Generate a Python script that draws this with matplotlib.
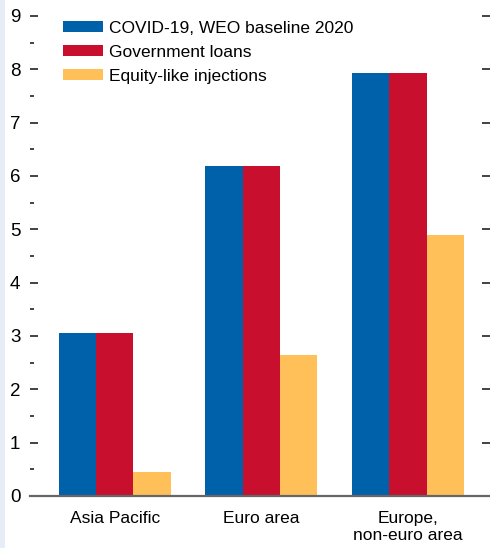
import numpy as np
import matplotlib.pyplot as plt
from matplotlib.patches import Rectangle, Patch
from matplotlib.ticker import MultipleLocator

plt.rcParams['font.family'] = ['Liberation Sans Narrow', 'Liberation Sans', 'DejaVu Sans']

regions = ['Asia Pacific', 'Euro area', 'Europe,\nnon-euro area']
series = ['COVID-19, WEO baseline 2020', 'Government loans', 'Equity-like injections']
baseline = [3.06, 6.19, 7.94]
gov_loans = [3.06, 6.19, 7.94]
equity = [0.45, 2.65, 4.90]
colors = ['#0061AB', '#C8102E', '#FFBF59']

fig = plt.figure(figsize=(4.9, 5.48), dpi=100)
# light strip at the left edge
fig.patches.append(Rectangle((0, 0), 5/490, 1, transform=fig.transFigure,
                             facecolor='#E6EDF7', edgecolor='none', zorder=0))
ax = fig.add_axes([30/490, 1 - 496/548, 460/490, 480/548])

x = np.arange(len(regions))
w = 0.255
for i, (vals, c) in enumerate(zip([baseline, gov_loans, equity], colors)):
    ax.bar(x + (i - 1) * w, vals, width=w, color=c, edgecolor='none', zorder=2)

ax.set_xlim(-0.578, 2.56)
ax.set_ylim(0, 9)
ax.set_xticks(x)
ax.set_xticklabels(regions, fontsize=12.5, linespacing=1.15)
ax.tick_params(axis='x', length=0, pad=11)

ax.yaxis.set_major_locator(MultipleLocator(1))
ax.yaxis.set_minor_locator(MultipleLocator(0.5))
ax.tick_params(axis='y', which='major', direction='in', length=6, width=1.2,
               color='#222222', left=True, right=True, labelsize=13.5, pad=7)
ax.tick_params(axis='y', which='minor', direction='in', length=3, width=1.2,
               color='#222222', left=True, right=False)

for s in ['top', 'left', 'right']:
    ax.spines[s].set_visible(False)
ax.spines['bottom'].set_color('#666666')
ax.spines['bottom'].set_linewidth(1.6)
ax.spines['bottom'].set_zorder(3)

handles = [Patch(facecolor=c, edgecolor='none') for c in colors]
ax.legend(handles, series, loc='upper left', bbox_to_anchor=(0.0715, 0.99),
          frameon=False, fontsize=12.5, handlelength=2.3, handleheight=0.55,
          handletextpad=0.35, labelspacing=0.51, borderaxespad=0.0, borderpad=0.0)

fig.savefig('out.png', dpi=100)
